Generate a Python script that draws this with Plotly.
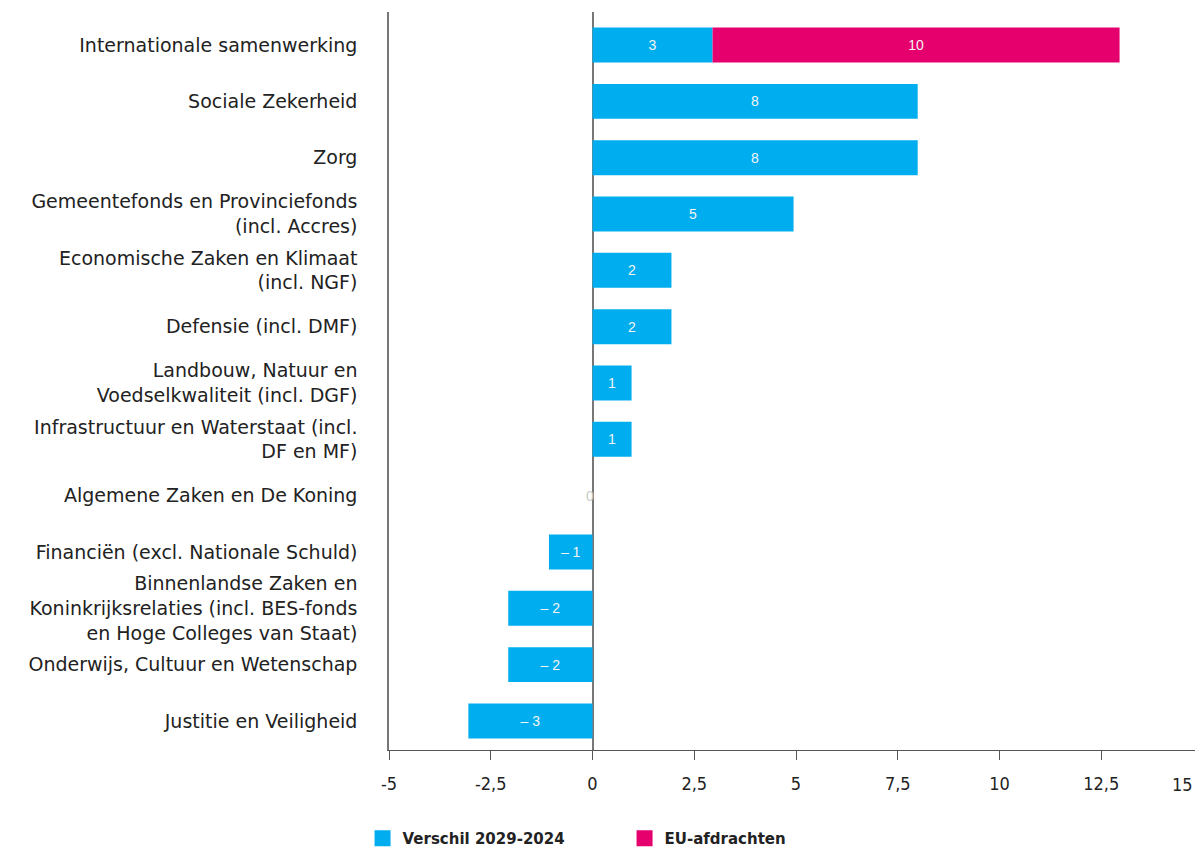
import plotly.graph_objects as go

categories = [
    "Internationale samenwerking",
    "Sociale Zekerheid",
    "Zorg",
    "Gemeentefonds en Provinciefonds<br>(incl. Accres)",
    "Economische Zaken en Klimaat<br>(incl. NGF)",
    "Defensie (incl. DMF)",
    "Landbouw, Natuur en<br>Voedselkwaliteit (incl. DGF)",
    "Infrastructuur en Waterstaat (incl.<br>DF en MF)",
    "Algemene Zaken en De Koning",
    "Financiën (excl. Nationale Schuld)",
    "Binnenlandse Zaken en<br>Koninkrijksrelaties (incl. BES-fonds<br>en Hoge Colleges van Staat)",
    "Onderwijs, Cultuur en Wetenschap",
    "Justitie en Veiligheid",
]
verschil = [2.95, 7.99, 7.99, 4.94, 1.94, 1.94, 0.96, 0.96, 0.0, -1.07, -2.07, -2.07, -3.05]
eu_afdrachten = [10.0, None, None, None, None, None, None, None, None, None, None, None, None]
tick_vals = [-5, -2.5, 0, 2.5, 5, 7.5, 10, 12.5, 15]
tick_text = ["-5", "-2,5", "0", "2,5", "5", "7,5", "10", "12,5", "15"]

BLUE = "#00AEEF"
PINK = "#E5006D"
LABEL_FONT = "DejaVu Sans, Liberation Sans"
TICK_FONT = dict(size=18, family="DejaVu Sans Condensed, Liberation Sans", color="#222")


def lab(v):
    if v is None:
        return ""
    r = round(v)
    if r == 0:
        return ""
    return ("–\u00a0" + str(abs(r))) if r < 0 else str(r)


fig = go.Figure()
fig.add_trace(go.Bar(
    y=categories, x=verschil, orientation="h", name="Verschil 2029-2024",
    marker=dict(color=BLUE, line=dict(width=0)),
    text=[lab(v) for v in verschil], textposition="inside",
    insidetextanchor="middle", textangle=0,
    textfont=dict(color="#F4F4F4", size=14, family="Liberation Sans"),
    width=0.62, showlegend=False,
))
fig.add_trace(go.Bar(
    y=categories, x=eu_afdrachten, orientation="h", name="EU-afdrachten",
    marker=dict(color=PINK, line=dict(width=0)),
    text=[lab(v) for v in eu_afdrachten], textposition="inside",
    insidetextanchor="middle", textangle=0,
    textfont=dict(color="#F4F4F4", size=14, family="Liberation Sans"),
    width=0.62, showlegend=False,
))
# legend entries (square swatches)
for nm, col in [("Verschil 2029-2024", BLUE), ("EU-afdrachten", PINK)]:
    fig.add_trace(go.Scatter(
        x=[None], y=[None], mode="markers", name=nm,
        marker=dict(symbol="square", size=16, color=col),
    ))

# zero-value label
for c, v in zip(categories, verschil):
    if round(v) == 0:
        fig.add_annotation(x=v, y=c, text="0", showarrow=False, xshift=-3,
                           font=dict(color="#CCCCCC", size=14, family="Liberation Sans"))

# last tick label, kept inside the visible page edge
fig.add_annotation(x=tick_vals[-1], xref="x", y=0, yref="paper",
                   text=tick_text[-1], showarrow=False,
                   xanchor="right", yanchor="middle", xshift=-8, yshift=-34,
                   font=TICK_FONT)

fig.update_layout(
    barmode="relative",
    width=1195, height=847,
    margin=dict(l=381, r=0, t=4, b=105),
    plot_bgcolor="white", paper_bgcolor="white",
    font=dict(family="Liberation Sans", color="#1a1a1a"),
    showlegend=True,
    legend=dict(
        orientation="h", xref="container", yref="container",
        x=0.2967, y=0.0, xanchor="left", yanchor="bottom",
        font=dict(size=15, family=LABEL_FONT, color="#222", weight="bold"),
        entrywidth=217, entrywidthmode="pixels",
        traceorder="normal", itemclick=False,
    ),
)
fig.update_xaxes(
    range=[-5, 15], tickvals=tick_vals[:-1], ticktext=tick_text[:-1],
    automargin=False,
    showgrid=False, zeroline=True, zerolinecolor="#777777", zerolinewidth=1.5,
    showline=True, linecolor="#555555", linewidth=1,
    ticks="outside", ticklen=9, tickcolor="#555555",
    ticklabelstandoff=8,
    tickfont=TICK_FONT,
)
fig.update_yaxes(
    range=[12.515, -0.586], showgrid=False, automargin=False,
    showline=True, linecolor="#777777", linewidth=1.5,
    ticks="", ticklabelstandoff=26,
    tickfont=dict(size=19, family=LABEL_FONT, color="#222222"),
)

fig.write_html("out.html")
